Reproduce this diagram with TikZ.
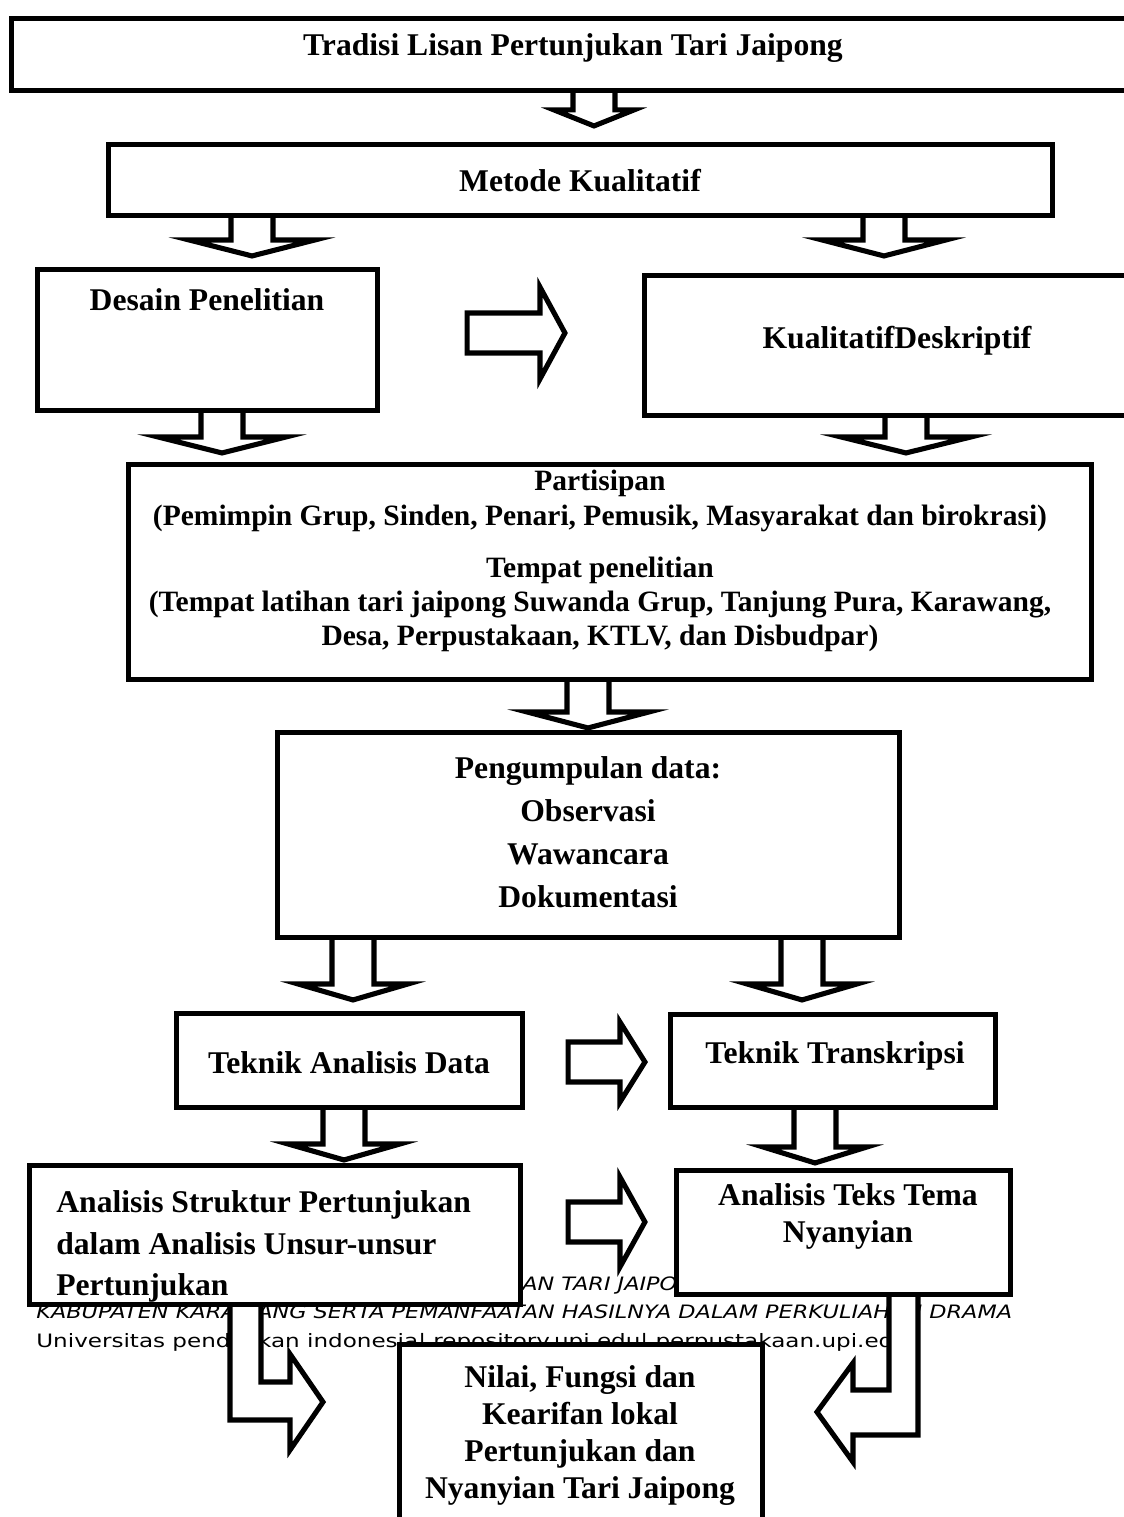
\documentclass[tikz,border=0pt]{standalone}
\usepackage{fontspec}
\setmainfont{Liberation Serif}
\newfontfamily\footfont{DejaVu Sans}
\usepackage{graphicx}
\usetikzlibrary{calc,fit}
\tikzset{
  box/.style={draw, fill=white, line width=2.9pt, inner sep=0pt},
  lbl/.style={font=\bfseries\fontsize{18pt}{21pt}\selectfont, align=center, inner sep=0pt, anchor=north},
  foot/.style={font=\footfont\fontsize{10.5pt}{12pt}\selectfont, inner sep=0pt, anchor=base west},
  blk/.style={draw, fill=white, line width=2.9pt, line join=miter},
}
\newcommand{\wide}[2][1.213]{\scalebox{#1}[1]{#2}}

\begin{document}
\begin{tikzpicture}[x=0.02cm,y=-0.02cm]
\useasboundingbox (0,0) rectangle (1124,1517);
\node[foot] (f1) at (522,1290) {\wide{\itshape AN TARI JAIPONG}};
\node[foot] (f2) at (36,1318) {\wide{\itshape KABUPATEN KARAWANG SERTA PEMANFAATAN HASILNYA DALAM PERKULIAHAN DRAMA}};
\node[foot] (f3) at (36,1347) {\wide[1.25]{Universitas pendidikan indonesia| repository.upi.edu| perpustakaan.upi.edu}};

\node[box, fit={(11.5,18.5) (1140,90.5)}] (b1) {};
\node[box, fit={(108.5,144.5) (1052.5,215.5)}] (b2) {};
\node[box, fit={(37.5,269.5) (377.5,410.5)}] (b3) {};
\node[box, fit={(644.5,275.5) (1140,415.5)}] (b4) {};
\node[box, fit={(128.5,464.5) (1091.5,679.5)}] (b5) {};
\node[box, fit={(277.5,732.5) (899.5,937.5)}] (b6) {};
\node[box, fit={(176.5,1013.5) (522.5,1107.5)}] (b7) {};
\node[box, fit={(670.5,1014.5) (995.5,1107.5)}] (b8) {};
\node[box, fit={(29.5,1165.5) (520.5,1304.5)}] (b9) {};
\node[box, fit={(676.5,1170.5) (1010.5,1294.5)}] (b10) {};
\node[box, fit={(399.5,1344.5) (762.5,1545)}] (b11) {};

\node[lbl] (t1) at (573,33.5) {Tradisi Lisan Pertunjukan Tari Jaipong};
\node[lbl] (t2) at (580,168.5) {Metode Kualitatif};
\node[lbl] (t3) at (207,288.5) {Desain Penelitian};
\node[lbl] (t4) at (897,325.5) {KualitatifDeskriptif};
\node[lbl, font=\bfseries\fontsize{16.8pt}{19.8pt}\selectfont] (t5a) at (600,469.5) {Partisipan\\(Pemimpin Grup, Sinden, Penari, Pemusik, Masyarakat dan birokrasi)};
\node[lbl, font=\bfseries\fontsize{16.8pt}{19.3pt}\selectfont] (t5b) at (600,556.5) {Tempat penelitian\\(Tempat latihan tari jaipong Suwanda Grup, Tanjung Pura, Karawang,\\Desa, Perpustakaan, KTLV, dan Disbudpar)};
\node[lbl, font=\bfseries\fontsize{18pt}{24.4pt}\selectfont] (t6) at (588,756.5) {Pengumpulan data:\\Observasi\\Wawancara\\Dokumentasi};
\node[lbl] (t7) at (349,1051.5) {Teknik Analisis Data};
\node[lbl] (t8) at (835,1041.5) {Teknik Transkripsi};
\node[lbl, font=\bfseries\fontsize{18pt}{23.5pt}\selectfont, align=left, anchor=north west] (t9) at (56,1190.5) {Analisis Struktur Pertunjukan\\dalam Analisis Unsur-unsur\\Pertunjukan};
\node[lbl] (t10) at (848,1183.5) {Analisis Teks Tema\\Nyanyian};
\node[lbl] (t11) at (580,1365.5) {Nilai, Fungsi dan\\Kearifan lokal\\Pertunjukan dan\\Nyanyian Tari Jaipong};

\foreach \a/\b/\x/\h/\g in {b1/b2/594/40/16, b2/b3/252/63/11, b2/b4/884/62/17, b3/b5/222/64/9, b4/b5/906/65/9, b5/b6/588/61/2, b6/b7/353/55/11, b6/b8/802/55/12, b7/b9/344/56/3, b8/b10/815/52/5} {
  \coordinate (cx) at (\x,0);
  \draw[blk] ($(\a.south -| cx)+(-21,0)$) -- ($(\b.north -| cx)+(-21,-\g-16)$) -- ($(\b.north -| cx)+(-\h,-\g-16)$) -- ($(\b.north -| cx)+(0,-\g)$) -- ($(\b.north -| cx)+(\h,-\g-16)$) -- ($(\b.north -| cx)+(21,-\g-16)$) -- ($(\a.south -| cx)+(21,0)$);
}
\foreach \a/\b/\y/\g/\k/\hh in {b3/b4/333/87/77/46, b7/b8/1062/43/23/40, b9/b10/1222/45/29/45} {
  \coordinate (cy) at (0,\y);
  \draw[blk] ($(\a.east |- cy)+(\g,-20)$) -- ($(\b.west |- cy)+(-\k-25,-20)$) -- ($(\b.west |- cy)+(-\k-25,-\hh)$) -- ($(\b.west |- cy)+(-\k,0)$) -- ($(\b.west |- cy)+(-\k-25,\hh)$) -- ($(\b.west |- cy)+(-\k-25,20)$) -- ($(\a.east |- cy)+(\g,20)$) -- cycle;
}
\coordinate (l1) at (230,0); \coordinate (l2) at (261,0);
\draw[blk] (b9.south -| l1) -- (230,1420) -- (290,1420) -- (290,1450) -- (323,1402) -- (290,1354) -- (290,1382) -- (261,1382) -- (b9.south -| l2);
\coordinate (r1) at (889,0); \coordinate (r2) at (918,0);
\draw[blk] (b10.south -| r2) -- (918,1435) -- (853,1435) -- (853,1462) -- (817,1412) -- (853,1363) -- (853,1390) -- (889,1390) -- (b10.south -| r1);
\end{tikzpicture}
\end{document}
